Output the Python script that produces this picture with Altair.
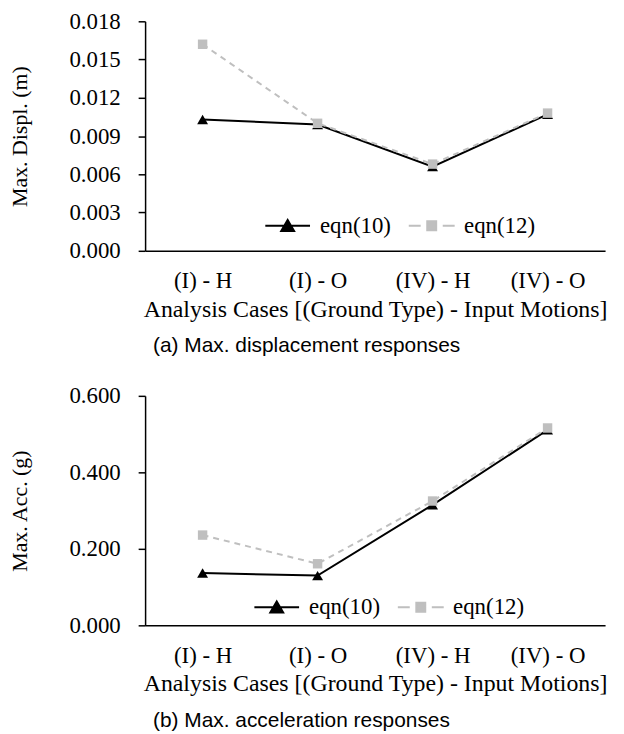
import altair as alt
import pandas as pd

cases = ["(I) - H", "(I) - O", "(IV) - H", "(IV) - O"]
series_names = ["eqn(10)", "eqn(12)"]
disp_eqn10 = [0.0103, 0.0099, 0.0066, 0.0107]
disp_eqn12 = [0.0162, 0.0100, 0.0068, 0.0108]
acc_eqn10 = [0.137, 0.130, 0.315, 0.511]
acc_eqn12 = [0.236, 0.161, 0.325, 0.516]
disp_ticks = [0.000, 0.003, 0.006, 0.009, 0.012, 0.015, 0.018]
acc_ticks = [0.0, 0.2, 0.4, 0.6]

SERIF = "Liberation Serif"
SANS = "Liberation Sans"
BLACK = "#000000"
GRAY = "#BFBFBF"

# legend symbols: line through marker (solid + triangle, dashed + square)
LEG_PATHS = [
    "M-3.75,0H3.75M0,-0.95L1.08,0.9H-1.08Z",
    "M-3.85,0H-1.85M1.85,0H3.85M-0.75,-0.75H0.75V0.75H-0.75Z",
]


def long_df(v10, v12):
    rows = []
    for c, a, b in zip(cases, v10, v12):
        rows.append({"case": c, "series": series_names[0], "value": a})
        rows.append({"case": c, "series": series_names[1], "value": b})
    return pd.DataFrame(rows)


def panel(df, ytitle, yticks, ymax, caption, legx, legy):
    base = alt.Chart(df)
    x = alt.X(
        "case:N",
        sort=cases,
        title="Analysis  Cases [(Ground Type) - Input Motions]",
        axis=alt.Axis(
            labelAngle=0, ticks=False, tickSize=0, labelPadding=19,
            titlePadding=5, labelFontSize=23, titleFontSize=24,
        ),
    )
    y = alt.Y(
        "value:Q",
        title=ytitle,
        scale=alt.Scale(domain=[0, ymax], nice=False, zero=True),
        axis=alt.Axis(
            values=yticks, format=".3f", tickSize=7, labelPadding=18,
            titlePadding=38, labelFontSize=23, titleFontSize=22,
        ),
    )
    l10 = base.transform_filter(alt.datum.series == series_names[0]).mark_line(
        color=BLACK, strokeWidth=2).encode(x=x, y=y)
    p10 = base.transform_filter(alt.datum.series == series_names[0]).mark_point(
        shape="triangle-up", filled=True, color=BLACK, size=120, opacity=1).encode(x=x, y=y)
    l12 = base.transform_filter(alt.datum.series == series_names[1]).mark_line(
        color=GRAY, strokeWidth=2, strokeDash=[6, 5]).encode(x=x, y=y)
    p12 = base.transform_filter(alt.datum.series == series_names[1]).mark_point(
        shape="square", filled=True, color=GRAY, size=90, opacity=1).encode(x=x, y=y)

    leg = alt.Legend(
        title=None, orient="none", legendX=legx, legendY=legy,
        direction="horizontal", symbolSize=144, symbolStrokeWidth=2,
        labelFont=SERIF, labelFontSize=23, labelColor=BLACK,
        labelOffset=21, columnPadding=13, padding=0,
    )
    legend_layer = base.transform_filter("false").mark_point(
        filled=True, opacity=1, strokeWidth=2).encode(
        color=alt.Color("series:N", scale=alt.Scale(domain=series_names, range=[BLACK, GRAY]), legend=leg),
        stroke=alt.Stroke("series:N", scale=alt.Scale(domain=series_names, range=[BLACK, GRAY]), legend=leg),
        shape=alt.Shape("series:N", scale=alt.Scale(domain=series_names, range=LEG_PATHS), legend=leg),
    )
    return alt.layer(l10, p10, l12, p12, legend_layer).properties(
        width=463,
        height=231,
        title=alt.TitleParams(
            caption, orient="bottom", anchor="start", frame="group",
            dx=8, offset=14, font=SANS, fontSize=21, fontWeight="normal", color=BLACK,
        ),
    )


top = panel(long_df(disp_eqn10, disp_eqn12), "Max. Displ.  (m)", disp_ticks, 0.018,
            "(a) Max. displacement responses", 132, 194)
bottom = panel(long_df(acc_eqn10, acc_eqn12), "Max. Acc.  (g)", acc_ticks, 0.6,
               "(b) Max. acceleration responses", 121, 201)

chart = alt.vconcat(top, bottom, spacing=29).resolve_scale(
    x="independent", y="independent", color="independent",
    stroke="independent", shape="independent",
).resolve_legend(color="independent", stroke="independent", shape="independent").properties(
    padding={"left": 0, "top": 0, "right": 5, "bottom": 5}
).configure_view(stroke=None).configure_axis(
    grid=False, domainColor=BLACK, domainWidth=1.5, tickColor=BLACK, tickWidth=1.5,
    labelFont=SERIF, titleFont=SERIF, labelColor=BLACK, titleColor=BLACK,
    titleFontWeight="normal",
)

chart.save("out.html", embed_options={"renderer": "svg", "actions": False})
